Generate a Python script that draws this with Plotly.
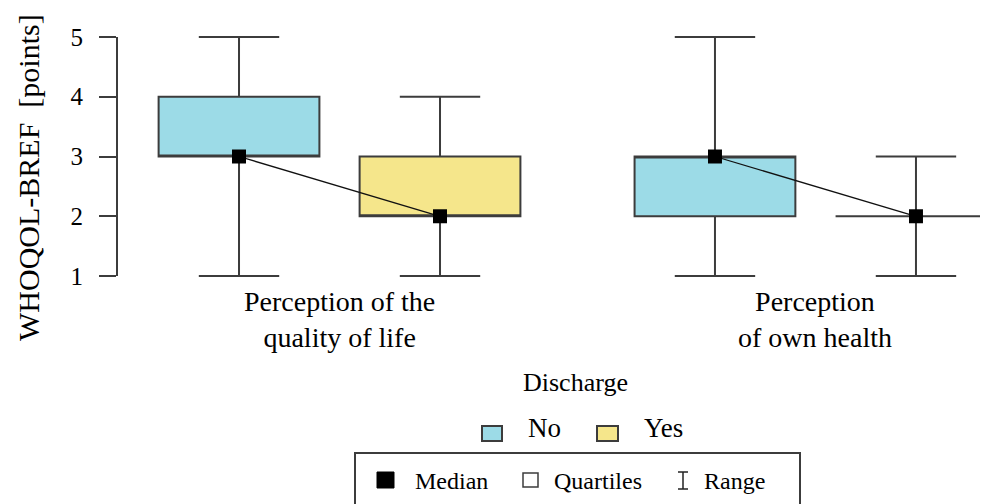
import plotly.graph_objects as go

# ---------------- data ----------------
categories = ["Perception of the<br>quality of life", "Perception<br>of own health"]
discharge = ["No", "Yes"]
minimum = [[1, 1], [1, 1]]
quart1 = [[3, 2], [2, 2]]
median = [[3, 2], [3, 2]]
quart3 = [[4, 3], [3, 2]]
maximum = [[5, 4], [5, 3]]
y_ticks = [1, 2, 3, 4, 5]

fill_colors = {"No": "#9cdbe7", "Yes": "#f5e68b"}
edge = "#3c3c3c"
FONT = "Liberation Serif, Times New Roman, serif"

# page body margin offset (figure is drawn 8px in from the page corner)
OFF = 8
W, H = 988, 504 - OFF
ML, MT = 117 - OFF, 34 - OFF
MR = 0
MB = H - (279 - OFF)
PW, PH = W - ML - MR, H - MT - MB

group_gap = 2.368
positions = [[g * group_gap + j for j in range(2)] for g in range(len(categories))]


def px(xp):
    return (xp - OFF - ML) / PW


def py(yp):
    return (H - MB - (yp - OFF)) / PH


fig = go.Figure()

for g, cat in enumerate(categories):
    for j, d in enumerate(discharge):
        fig.add_trace(go.Box(
            x=[positions[g][j]],
            q1=[quart1[g][j]], median=[median[g][j]], q3=[quart3[g][j]],
            lowerfence=[minimum[g][j]], upperfence=[maximum[g][j]],
            width=0.8, whiskerwidth=0.5, boxpoints=False,
            fillcolor=fill_colors[d], line=dict(color=edge, width=2),
            showlegend=False, hoverinfo="skip",
        ))

for g, cat in enumerate(categories):
    fig.add_trace(go.Scatter(
        x=positions[g], y=median[g], mode="lines+markers",
        line=dict(color="#111111", width=1.3),
        marker=dict(symbol="square", size=14, color="black"),
        showlegend=False, hoverinfo="skip",
    ))

shapes = []
# y axis line from 1 to 5
shapes.append(dict(type="line", xref="paper", yref="y", x0=0, x1=0,
                   y0=min(y_ticks), y1=max(y_ticks), line=dict(color=edge, width=2)))

annotations = []
for g, cat in enumerate(categories):
    annotations.append(dict(x=sum(positions[g]) / 2, xref="x", y=py(319), yref="paper",
                            text=cat, showarrow=False, font=dict(family=FONT, size=28, color="black"),
                            xanchor="center", yanchor="middle"))

annotations.append(dict(x=px(28), y=py(178), xref="paper", yref="paper",
                        text="WHOQOL-BREF\u00a0 [points]", textangle=-90, showarrow=False,
                        font=dict(family=FONT, size=30, color="black"),
                        xanchor="center", yanchor="middle"))

annotations.append(dict(x=px(575), y=py(382), xref="paper", yref="paper", text="Discharge",
                        showarrow=False, font=dict(family=FONT, size=26, color="black"),
                        xanchor="center", yanchor="middle"))

# legend for discharge groups
leg_sq = [(482, 502), (597, 618)]
leg_tx = [526, 642]
for (x0, x1), tx, d in zip(leg_sq, leg_tx, discharge):
    shapes.append(dict(type="rect", xref="paper", yref="paper", x0=px(x0), x1=px(x1),
                       y0=py(426), y1=py(441), fillcolor=fill_colors[d], line=dict(color=edge, width=2)))
    annotations.append(dict(x=px(tx), y=py(428), xref="paper", yref="paper", text=d,
                            showarrow=False, font=dict(family=FONT, size=27, color="black"),
                            xanchor="left", yanchor="middle"))

# legend box for statistics
shapes.append(dict(type="rect", xref="paper", yref="paper", x0=px(355), x1=px(800),
                   y0=py(453), y1=py(540), fillcolor="rgba(0,0,0,0)", line=dict(color=edge, width=2)))
shapes.append(dict(type="rect", xref="paper", yref="paper", x0=px(377), x1=px(394),
                   y0=py(472), y1=py(488), fillcolor="black", line=dict(color="black", width=1)))
shapes.append(dict(type="rect", xref="paper", yref="paper", x0=px(523), x1=px(538),
                   y0=py(473), y1=py(487), fillcolor="white", line=dict(color=edge, width=1.5)))
for seg in [(683, 472, 683, 489), (678, 472, 688, 472), (678, 489, 688, 489)]:
    shapes.append(dict(type="line", xref="paper", yref="paper", x0=px(seg[0]), y0=py(seg[1]),
                       x1=px(seg[2]), y1=py(seg[3]), line=dict(color="#222222", width=1.5)))
for tx, t in [(413, "Median"), (552, "Quartiles"), (702, "Range")]:
    annotations.append(dict(x=px(tx), y=py(481), xref="paper", yref="paper", text=t,
                            showarrow=False, font=dict(family=FONT, size=24, color="black"),
                            xanchor="left", yanchor="middle"))

x_lo = -0.607
fig.update_layout(
    width=W, height=H,
    margin=dict(l=ML, r=MR, t=MT, b=MB, pad=0),
    paper_bgcolor="white", plot_bgcolor="white",
    showlegend=False,
    xaxis=dict(range=[x_lo, x_lo + PW / 201.0], visible=False, showgrid=False, zeroline=False),
    yaxis=dict(range=[0.95, 5.05], tickvals=y_ticks, ticks="outside", ticklen=17, tickwidth=2,
               tickcolor=edge, showline=False, showgrid=False, zeroline=False,
               ticklabelstandoff=11,
               tickfont=dict(family=FONT, size=25, color="black")),
    shapes=shapes, annotations=annotations,
)

fig.write_html("out.html")
